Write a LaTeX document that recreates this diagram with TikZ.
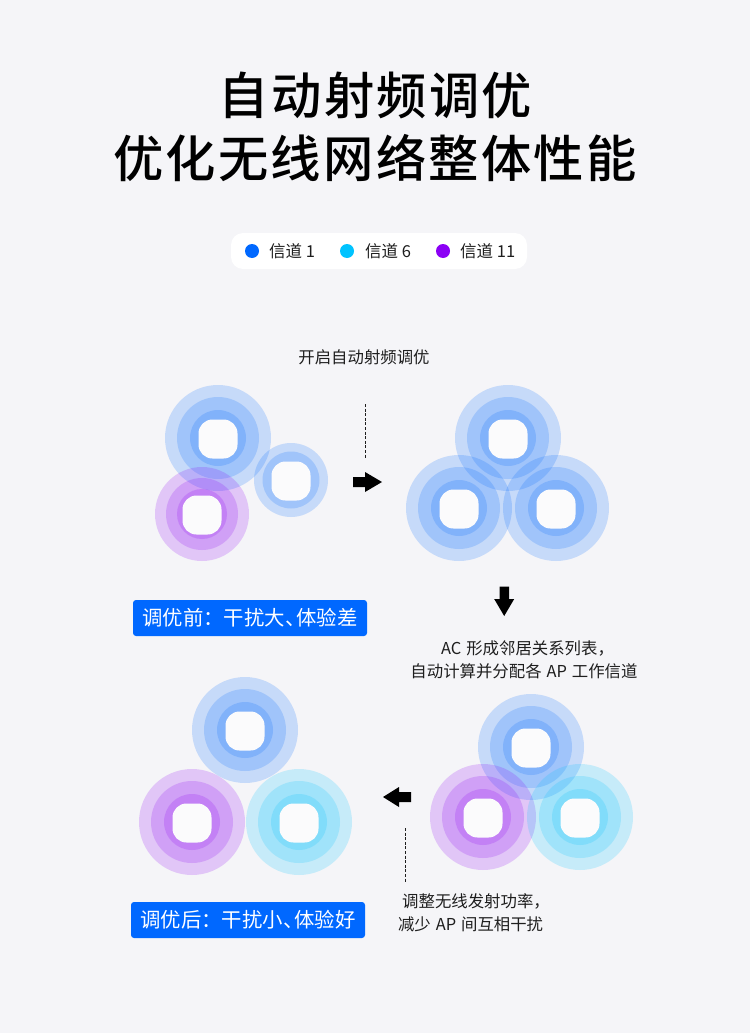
\documentclass[tikz,border=0pt]{standalone}
\usepackage{fontspec}
\setmainfont{Noto Sans CJK SC}
\newfontfamily\titlefont{Noto Sans CJK SC Medium}
\newfontfamily\bodyfont[WordSpace=1.35]{Noto Sans CJK SC}
\usetikzlibrary{calc}
\definecolor{pagebg}{HTML}{F5F5F8}
\definecolor{chone}{HTML}{0068FF}
\definecolor{chsix}{HTML}{00C3FF}
\definecolor{chele}{HTML}{8B00F5}
\definecolor{inktext}{HTML}{1E1E1E}
\tikzset{
  wave/.style={fill=#1,fill opacity=0.19,draw=none},
  apbody/.style={fill=#1,draw=none,rounded corners=14pt},
  titletext/.style={font=\titlefont\fontsize{50.3}{50}\selectfont,text=black,anchor=center,inner sep=0pt},
  bodytext/.style={font=\bodyfont\fontsize{16.4}{18}\selectfont,text=inktext,anchor=center,inner sep=0pt},
  legendtext/.style={font=\fontsize{16.5}{18}\selectfont,text=inktext,anchor=west,inner sep=0pt},
  badge/.style={fill=chone,rounded corners=3pt,draw=none,minimum width=234pt,minimum height=36pt,inner sep=0pt,text=white,font=\fontsize{20.4}{22}\selectfont},
  dot/.style={circle,fill=#1,minimum size=14pt,inner sep=0pt,draw=none},
  dashline/.style={draw=inktext,line width=0.8pt,dash pattern=on 3pt off 1.6pt},
  blockarrow/.style={fill=black,draw=none}
}
% \apunit{x}{y}{colour}{r outer}{r mid}{r inner (0 = none)}
\newcommand{\apunit}[6]{%
  \begin{scope}[shift={(#1,#2)}]
    \fill[wave=#3] (0,0) circle[radius=#4];
    \fill[wave=#3] (0,0) circle[radius=#5];
    \ifdim #6pt>0pt \fill[wave=#3] (0,0) circle[radius=#6]; \fi
  \end{scope}}
\newcommand{\apbox}[2]{%
  \begin{scope}[shift={(#1,#2)},yshift=-1pt]
    \fill[apbody=white!60!pagebg] (-19.5,-19.5) rectangle (19.5,19.5);
  \end{scope}}
\begin{document}
\begin{tikzpicture}[x=1pt,y=-1pt]
\useasboundingbox (0,0) rectangle (750,1033);
\fill[pagebg] (0,0) rectangle (750,1033);

\node[titletext] (t1) at (375.5,95) {\addfontfeature{LetterSpace=4.5}自动射频调优};
\node[titletext] (t2) at (375,158) {\addfontfeature{LetterSpace=4.5}优化无线网络整体性能};

\fill[white,rounded corners=12pt] (231,233) rectangle (527,269);
\node[dot=chone] (d1) at (252,251) {};
\node[legendtext] (l1) at (269,251) {信道 1};
\node[dot=chsix] (d2) at (347,251) {};
\node[legendtext] (l2) at (365,251) {信道 6};
\node[dot=chele] (d3) at (443,251) {};
\node[legendtext] (l3) at (460,251) {信道 11};

\node[bodytext] (step1) at (364,357) {开启自动射频调优};

% group 1
\apunit{218}{438}{chone}{53}{41}{28}
\apunit{291}{480}{chone}{37}{28.5}{0}
\apunit{202}{514}{chele}{47}{36}{25}
\apbox{218}{438}\apbox{291}{480}\apbox{202}{514}
% group 2
\apunit{508}{438}{chone}{53}{41}{28}
\apunit{459}{508}{chone}{53}{41}{28}
\apunit{556}{508}{chone}{53}{41}{28}
\apbox{508}{438}\apbox{459}{508}\apbox{556}{508}
% group 3
\apunit{531}{747}{chone}{53}{41}{28}
\apunit{483}{817}{chele}{53}{41}{28}
\apunit{580}{817}{chsix}{53}{41}{28}
\apbox{531}{747}\apbox{483}{817}\apbox{580}{817}
% group 4
\apunit{245}{730}{chone}{53}{41}{28}
\apunit{192}{822}{chele}{53}{41}{28}
\apunit{299}{822}{chsix}{53}{41}{28}
\apbox{245}{730}\apbox{192}{822}\apbox{299}{822}

% arrows
\fill[blockarrow] (353,477) -- (365,477) -- (365,472) -- (382,482) -- (365,492) -- (365,487) -- (353,487) -- cycle;
\fill[blockarrow] (499.5,586.5) -- (509,586.5) -- (509,599) -- (514.2,599) -- (504.2,616) -- (494.2,599) -- (499.5,599) -- cycle;
\fill[blockarrow] (411,792) -- (399,792) -- (399,787) -- (383,797) -- (399,807) -- (399,802) -- (411,802) -- cycle;

% dashed leaders
\coordinate (da) at (365.5,404);
\coordinate (db) at (365.5,458);
\draw[dashline] (da) -- (db);
\coordinate (dc) at (405.5,828);
\coordinate (dd) at (405.5,883);
\draw[dashline] (dc) -- (dd);

\node[badge] (b1) at (250,618) {调优前：干扰大、\kern-9pt 体验差};
\node[badge] (b2) at (248,920) {调优后：干扰小、\kern-9pt 体验好};

\node[bodytext] (s2a) at (527.5,648) {AC 形成邻居关系列表，};
\node[bodytext] (s2b) at (524,671) {自动计算并分配各 AP 工作信道};
\node[bodytext] (s3a) at (476,901) {调整无线发射功率，};
\node[bodytext] (s3b) at (470.6,924) {减少 AP 间互相干扰};
\end{tikzpicture}
\end{document}
